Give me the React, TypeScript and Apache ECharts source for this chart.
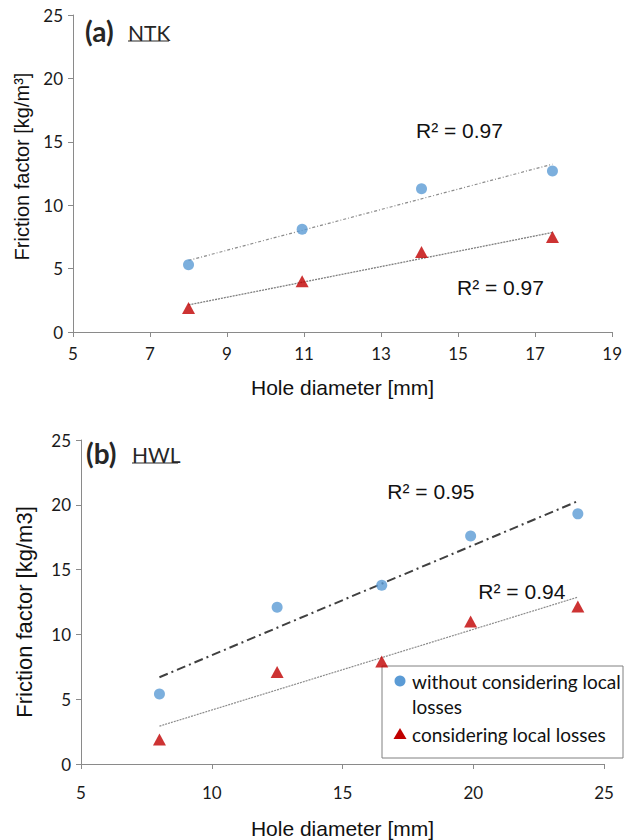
import React, { useEffect, useRef } from "react";
import * as echarts from "echarts";

// (a) NTK panel
const ntkDiameter = [8, 10.95, 14.05, 17.45];
const ntkWithoutLocal = [5.3, 8.1, 11.3, 12.7];
const ntkWithLocal = [1.9, 4.0, 6.3, 7.5];

// (b) HWL panel
const hwlDiameter = [8, 12.5, 16.5, 19.9, 24];
const hwlWithoutLocal = [5.4, 12.1, 13.8, 17.6, 19.3];
const hwlWithLocal = [1.9, 7.1, 7.9, 11.0, 12.15];

const r2Labels = ["R² = 0.97", "R² = 0.97", "R² = 0.95", "R² = 0.94"];
const legendNames = ["without considering local losses", "considering local losses"];

const BLUE = "#5B9BD5";
const RED = "#C00000";
const AXIS = "#8a8a8a";
const TICK_FONT = "Lato, 'Open Sans', sans-serif";
const ARIAL = "'Liberation Sans', Arial, sans-serif";

// least-squares line through the points, returned as its two end points
function linearFit(xs: number[], ys: number[]) {
  const n = xs.length;
  const mx = xs.reduce((s, v) => s + v, 0) / n;
  const my = ys.reduce((s, v) => s + v, 0) / n;
  let sxy = 0;
  let sxx = 0;
  for (let i = 0; i < n; i++) {
    sxy += (xs[i] - mx) * (ys[i] - my);
    sxx += (xs[i] - mx) * (xs[i] - mx);
  }
  const slope = sxy / sxx;
  const x0 = Math.min(...xs);
  const x1 = Math.max(...xs);
  return [
    [x0, my + slope * (x0 - mx)],
    [x1, my + slope * (x1 - mx)],
  ];
}

function trendSeries(
  xs: number[],
  ys: number[],
  idx: number,
  lineStyle: any,
  text: string,
  offset: number[]
) {
  const [p0, p1] = linearFit(xs, ys);
  return {
    type: "line",
    xAxisIndex: idx,
    yAxisIndex: idx,
    symbol: "circle",
    symbolSize: 0,
    silent: true,
    z: 1,
    lineStyle,
    data: [
      { value: p0 },
      {
        value: p1,
        label: {
          show: true,
          position: "inside",
          offset,
          formatter: text,
          fontFamily: ARIAL,
          fontSize: 21,
          color: "#111",
          align: "center",
          verticalAlign: "middle",
        },
      },
    ],
  };
}

function pointSeries(name: string, xs: number[], ys: number[], idx: number, symbol: string) {
  const isCircle = symbol === "circle";
  return {
    type: "scatter",
    name,
    xAxisIndex: idx,
    yAxisIndex: idx,
    symbol,
    symbolSize: isCircle ? 11 : [13, 12],
    z: 3,
    itemStyle: { color: isCircle ? BLUE : RED },
    data: xs.map((x, i) => [x, ys[i]]),
  };
}

function valueXAxis(idx: number, max: number, interval: number, gap: number, labelMargin: number) {
  return {
    type: "value",
    gridIndex: idx,
    min: 5,
    max,
    interval,
    name: "Hole diameter [mm]",
    nameLocation: "middle",
    nameGap: gap,
    nameTextStyle: { fontFamily: ARIAL, fontSize: 21, color: "#111" },
    axisLine: { show: true, onZero: false, lineStyle: { color: AXIS, width: 1 } },
    axisTick: { show: true, length: 5, lineStyle: { color: AXIS } },
    axisLabel: { fontFamily: TICK_FONT, fontSize: 17, color: "#1a1a1a", margin: labelMargin },
    splitLine: { show: false },
  };
}

function valueYAxis(idx: number, name: string, gap: number, size: number, shift: number) {
  return {
    type: "value",
    gridIndex: idx,
    min: 0,
    max: 25,
    interval: 5,
    name,
    nameLocation: "middle",
    nameGap: gap,
    // shift > 0 moves the rotated title towards the bottom of the axis
    nameTextStyle: {
      fontFamily: ARIAL,
      fontSize: size,
      color: "#111",
      padding: shift > 0 ? [0, 2 * shift, 0, 0] : [0, 0, 0, -2 * shift],
    },
    axisLine: { show: true, lineStyle: { color: AXIS, width: 1 } },
    axisTick: { show: true, length: 5, lineStyle: { color: AXIS } },
    axisLabel: { fontFamily: TICK_FONT, fontSize: 17, color: "#1a1a1a", margin: 10 },
    splitLine: { show: false },
  };
}

function panelTitle(tag: string, site: string, x: number, y: number, siteX: number, underlineW: number) {
  return [
    {
      type: "text",
      x,
      y,
      style: {
        text: tag,
        fontFamily: TICK_FONT,
        fontWeight: "bold",
        fontSize: 28,
        fill: "#262626",
        verticalAlign: "middle",
      },
    },
    {
      type: "text",
      x: siteX,
      y: y + 1,
      style: {
        text: site,
        fontFamily: TICK_FONT,
        fontSize: 21,
        fill: "#262626",
        verticalAlign: "middle",
      },
    },
    {
      type: "line",
      shape: { x1: siteX, y1: y + 10, x2: siteX + underlineW, y2: y + 10 },
      style: { stroke: "#262626", lineWidth: 1.2 },
    },
  ];
}

function legendBox() {
  const left = 382;
  const top = 666;
  return {
    type: "group",
    children: [
      {
        type: "rect",
        shape: { x: left, y: top, width: 241, height: 92 },
        style: { fill: "#fff", stroke: "#808080", lineWidth: 1 },
      },
      {
        type: "circle",
        shape: { cx: left + 18, cy: top + 15, r: 5.5 },
        style: { fill: BLUE },
      },
      {
        // two-line label, its first line level with the circle
        type: "text",
        x: left + 30,
        y: top + 15 - 12.5,
        style: {
          text: "without considering local\nlosses",
          fontFamily: TICK_FONT,
          fontSize: 19,
          lineHeight: 25,
          fill: "#111",
          verticalAlign: "top",
        },
      },
      {
        type: "polygon",
        shape: {
          points: [
            [left + 18, top + 62],
            [left + 24.5, top + 73],
            [left + 11.5, top + 73],
          ],
        },
        style: { fill: RED },
      },
      {
        type: "text",
        x: left + 30,
        y: top + 68,
        style: {
          text: legendNames[1],
          fontFamily: TICK_FONT,
          fontSize: 19,
          fill: "#111",
          verticalAlign: "middle",
        },
      },
    ],
  };
}

export default function App() {
  const ref = useRef<HTMLDivElement>(null);

  useEffect(() => {
    if (!ref.current) return;
    const chart = echarts.init(ref.current, undefined, { renderer: "svg" });

    chart.setOption({
      animation: false,
      backgroundColor: "#ffffff",
      grid: [
        { left: 73, top: 15, width: 543, height: 317 },
        { left: 81, top: 440, width: 523, height: 325 },
      ],
      xAxis: [valueXAxis(0, 19, 2, 45, 13), valueXAxis(1, 25, 5, 54, 20)],
      yAxis: [
        valueYAxis(0, "Friction factor [kg/m³]", 41, 20, -7),
        valueYAxis(1, "Friction factor [kg/m3]", 46, 22, 10),
      ],
      series: [
        trendSeries(ntkDiameter, ntkWithoutLocal, 0, { color: "#8c8c8c", width: 1.2, type: [3, 2, 1, 2] }, r2Labels[0], [-93, -34]),
        trendSeries(ntkDiameter, ntkWithLocal, 0, { color: "#7f7f7f", width: 1.3, type: [2, 1] }, r2Labels[1], [-52, 55]),
        trendSeries(hwlDiameter, hwlWithoutLocal, 1, { color: "#404040", width: 2, type: [9, 4, 2, 4] }, r2Labels[2], [-147, -10]),
        trendSeries(hwlDiameter, hwlWithLocal, 1, { color: "#8c8c8c", width: 1.2, type: [2, 1] }, r2Labels[3], [-56, -6]),
        pointSeries(legendNames[0], ntkDiameter, ntkWithoutLocal, 0, "circle"),
        pointSeries(legendNames[1], ntkDiameter, ntkWithLocal, 0, "triangle"),
        pointSeries(legendNames[0], hwlDiameter, hwlWithoutLocal, 1, "circle"),
        pointSeries(legendNames[1], hwlDiameter, hwlWithLocal, 1, "triangle"),
      ],
      graphic: [
        ...panelTitle("(a)", "NTK", 85, 31, 128, 41),
        ...panelTitle("(b)", "HWL", 86, 453, 132, 46),
        legendBox(),
      ],
    });

    return () => chart.dispose();
  }, []);

  return (
    <div
      ref={ref}
      style={{ position: "fixed", left: 0, top: 0, width: 625, height: 840, background: "#fff" }}
    />
  );
}
